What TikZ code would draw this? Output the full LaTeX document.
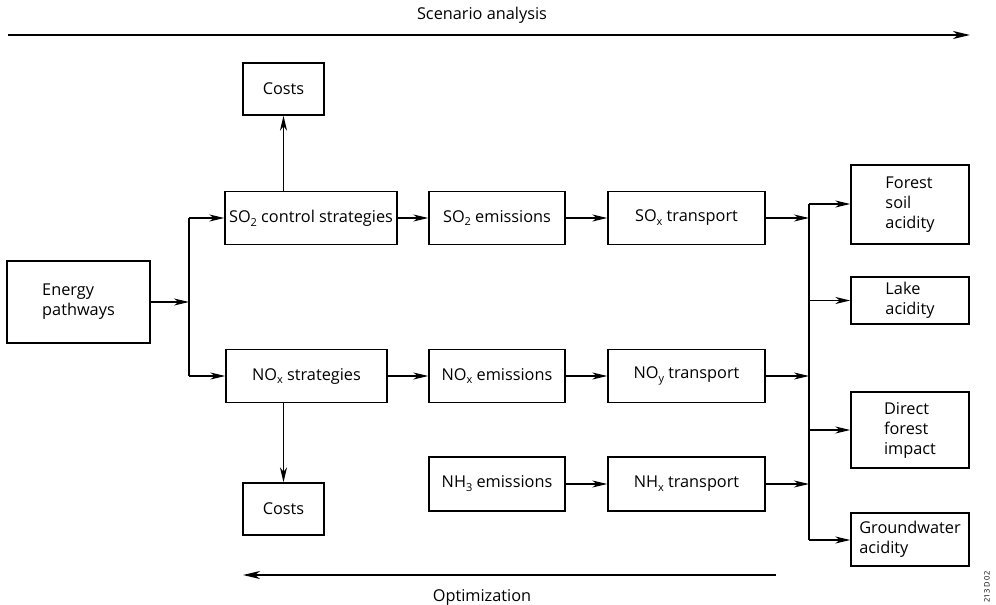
\documentclass[tikz,border=0pt]{standalone}
\usepackage{fontspec}
\setmainfont{Open Sans}
\usetikzlibrary{arrows.meta}
\newcommand{\low}[1]{\raisebox{-0.45ex}{\fontsize{11}{11}\selectfont #1}}

\begin{document}
\begin{tikzpicture}[x=1pt,y=-1pt,
  every node/.style={font=\fontsize{16.3}{20}\selectfont},
  box/.style={draw,line width=1.4pt,inner sep=2pt,align=left},
  flow/.style={line width=1.3pt,-{Stealth[length=15pt,width=7pt,inset=4.5pt]}},
  wide/.style={line width=2pt,-{Stealth[length=17pt,width=8pt,inset=5pt]}}]
\useasboundingbox (0,0) rectangle (996,605);

\node[box,minimum width=143pt,minimum height=82pt] (energy) at (78.5,302) {Energy\\pathways};
\node[box,minimum width=172pt,minimum height=53pt] (so2ctl) at (311,218) {SO\low{2} control strategies};
\node[box,minimum width=161pt,minimum height=53pt] (noxstr) at (306.5,376) {NO\low{x} strategies};
\node[box,minimum width=81pt,minimum height=52pt] (costsA) at (283.5,89) {Costs};
\node[box,minimum width=81pt,minimum height=52pt] (costsB) at (283.5,509) {Costs};

\node[box,minimum width=136pt,minimum height=53pt] (so2em) at (497,218) {SO\low{2} emissions};
\node[box,minimum width=136pt,minimum height=53pt] (noxem) at (497,376) {NO\low{x} emissions};
\node[box,minimum width=136pt,minimum height=54pt] (nh3em) at (497,484) {NH\low{3} emissions};
\node[box,minimum width=157pt,minimum height=53pt] (soxtr) at (686.5,218) {SO\low{x} transport};
\node[box,minimum width=157pt,minimum height=53pt] (noytr) at (686.5,376) {NO\low{y} transport};
\node[box,minimum width=157pt,minimum height=54pt] (nhxtr) at (686.5,484) {NH\low{x} transport};

\node[box,minimum width=118pt,minimum height=79pt] (forest) at (910,204.5) {Forest\\soil\\acidity};
\node[box,minimum width=118pt,minimum height=47pt] (lake) at (910,300.5) {Lake\\acidity};
\node[box,minimum width=118pt,minimum height=76pt] (direct) at (910,430) {Direct\\forest\\impact};
\node[box,minimum width=118pt,minimum height=53pt] (ground) at (910,539.5) {Groundwater\\acidity};

\coordinate (fork) at (189,302);
\coordinate (bustop) at (809,204);
\coordinate (busbot) at (809,540);

\draw[flow] (energy) -- (fork);
\draw[line width=1.3pt] (so2ctl.west -| fork) -- (noxstr.west -| fork);
\draw[flow] (so2ctl.west -| fork) -- (so2ctl.west);
\draw[flow] (noxstr.west -| fork) -- (noxstr.west);
\draw[flow] (costsA.south |- so2ctl.north) -- (costsA.south);
\draw[flow] (costsB.north |- noxstr.south) -- (costsB.north);

\draw[flow] (so2ctl) -- (so2em);
\draw[flow] (noxstr) -- (noxem);
\draw[flow] (so2em) -- (soxtr);
\draw[flow] (noxem) -- (noytr);
\draw[flow] (nh3em) -- (nhxtr);

\draw[line width=1.3pt] (bustop) -- (busbot);
\draw[flow] (soxtr.east) -- (soxtr.east -| bustop);
\draw[flow] (noytr.east) -- (noytr.east -| bustop);
\draw[flow] (nhxtr.east) -- (nhxtr.east -| bustop);
\draw[flow] (bustop) -- (forest.west |- bustop);
\draw[flow] (lake.west -| bustop) -- (lake.west);
\draw[flow] (direct.west -| bustop) -- (direct.west);
\draw[flow] (busbot) -- (ground.west |- busbot);

\coordinate (scenL) at (8,35);
\coordinate (scenR) at (970,35);
\draw[wide] (scenL) -- (scenR);
\node (scentxt) at (482,15) {Scenario analysis};

\coordinate (optR) at (776,575);
\coordinate (optL) at (243,575);
\draw[wide] (optR) -- (optL);
\node (opttxt) at (482,597) {Optimization};

\node[rotate=90,font=\fontsize{7.5}{8}\selectfont] (figno) at (987,587) {213 D 02};
\end{tikzpicture}
\end{document}
